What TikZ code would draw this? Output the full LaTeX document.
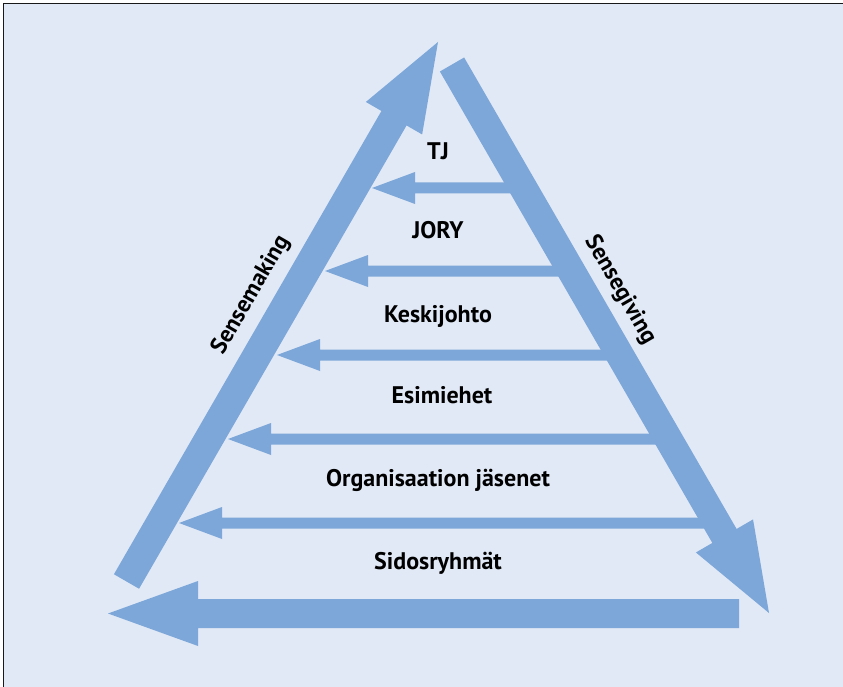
\documentclass[tikz,border=0pt]{standalone}
\usepackage{fontspec}
\setmainfont{PT Sans}
\usetikzlibrary{calc}

\definecolor{bgblue}{RGB}{225,233,246}
\definecolor{arrowblue}{RGB}{124,167,216}
\definecolor{framegrey}{RGB}{25,25,25}

\tikzset{
  arrowfill/.style={fill=arrowblue},
  level/.style={font=\fontsize{24}{29}\selectfont\bfseries, anchor=base, inner sep=0pt},
  sidelabel/.style={font=\fontsize{23.5}{28}\selectfont\bfseries, inner sep=0pt},
}

% Block arrow: #1 tail, #2 tip, #3 half shaft width, #4 head length, #5 half head width
\newcommand\blockarrow[5]{%
  \coordinate (ba-base) at ($(#2)!#4!(#1)$);
  \fill[arrowfill] ($(#1)!#3!90:(#2)$) -- ($(ba-base)!#3!-90:(#1)$)
    -- ($(ba-base)!#5!-90:(#1)$) -- (#2) -- ($(ba-base)!#5!90:(#1)$)
    -- ($(ba-base)!#3!90:(#1)$) -- ($(#1)!#3!-90:(#2)$) -- cycle;
}

\begin{document}
\begin{tikzpicture}[x=1pt, y=-1pt]
  \useasboundingbox (0,0) rectangle (843,687);
  \fill[white] (0,0) rectangle (843,687);
  \fill[bgblue] (3,3) rectangle (843,687);
  \draw[framegrey, line width=1.5pt] (3.5,687) -- (3.5,3.5) -- (843,3.5);

  % end points of the arrows
  \coordinate (upTail) at (126.5,581.5);
  \coordinate (upTip) at (438,42);
  \coordinate (downTail) at (452,64.5);
  \coordinate (downTip) at (769,613);
  \coordinate (baseTail) at (739,613.5);
  \coordinate (baseTip) at (108,613.5);

  \coordinate (l1Tail) at (523,188);   \coordinate (l1Tip) at (372,188);
  \coordinate (l2Tail) at (571,271);   \coordinate (l2Tip) at (325,271);
  \coordinate (l3Tail) at (620,355);   \coordinate (l3Tip) at (277,355);
  \coordinate (l4Tail) at (668,439);   \coordinate (l4Tip) at (228,439);
  \coordinate (l5Tail) at (717,523);   \coordinate (l5Tip) at (179,523);

  % thin arrows between the levels
  \foreach \i in {1,...,5} {\blockarrow{l\i Tail}{l\i Tip}{5.5pt}{43pt}{16pt}}

  % sides of the triangle and the base
  \blockarrow{downTail}{downTip}{14pt}{89pt}{33pt}
  \blockarrow{upTail}{upTip}{14.5pt}{88pt}{32.5pt}
  \blockarrow{baseTail}{baseTip}{14.5pt}{90pt}{32.5pt}

  % level names
  \node[level] (tj)   at (438,160) {TJ};
  \node[level] (jory) at (438,238) {JORY};
  \node[level] (kj)   at (438,322) {Keskijohto};
  \node[level] (esi)  at (442,403) {Esimiehet};
  \node[level] (org)  at (438,486) {Organisaation jäsenet};
  \node[level] (sid)  at (438,569) {Sidosryhmät};

  % side labels
  \node[sidelabel, rotate=60]  (making) at (251,295) {Sensemaking};
  \node[sidelabel, rotate=-60] (giving) at (620,290) {Sensegiving};
\end{tikzpicture}
\end{document}
